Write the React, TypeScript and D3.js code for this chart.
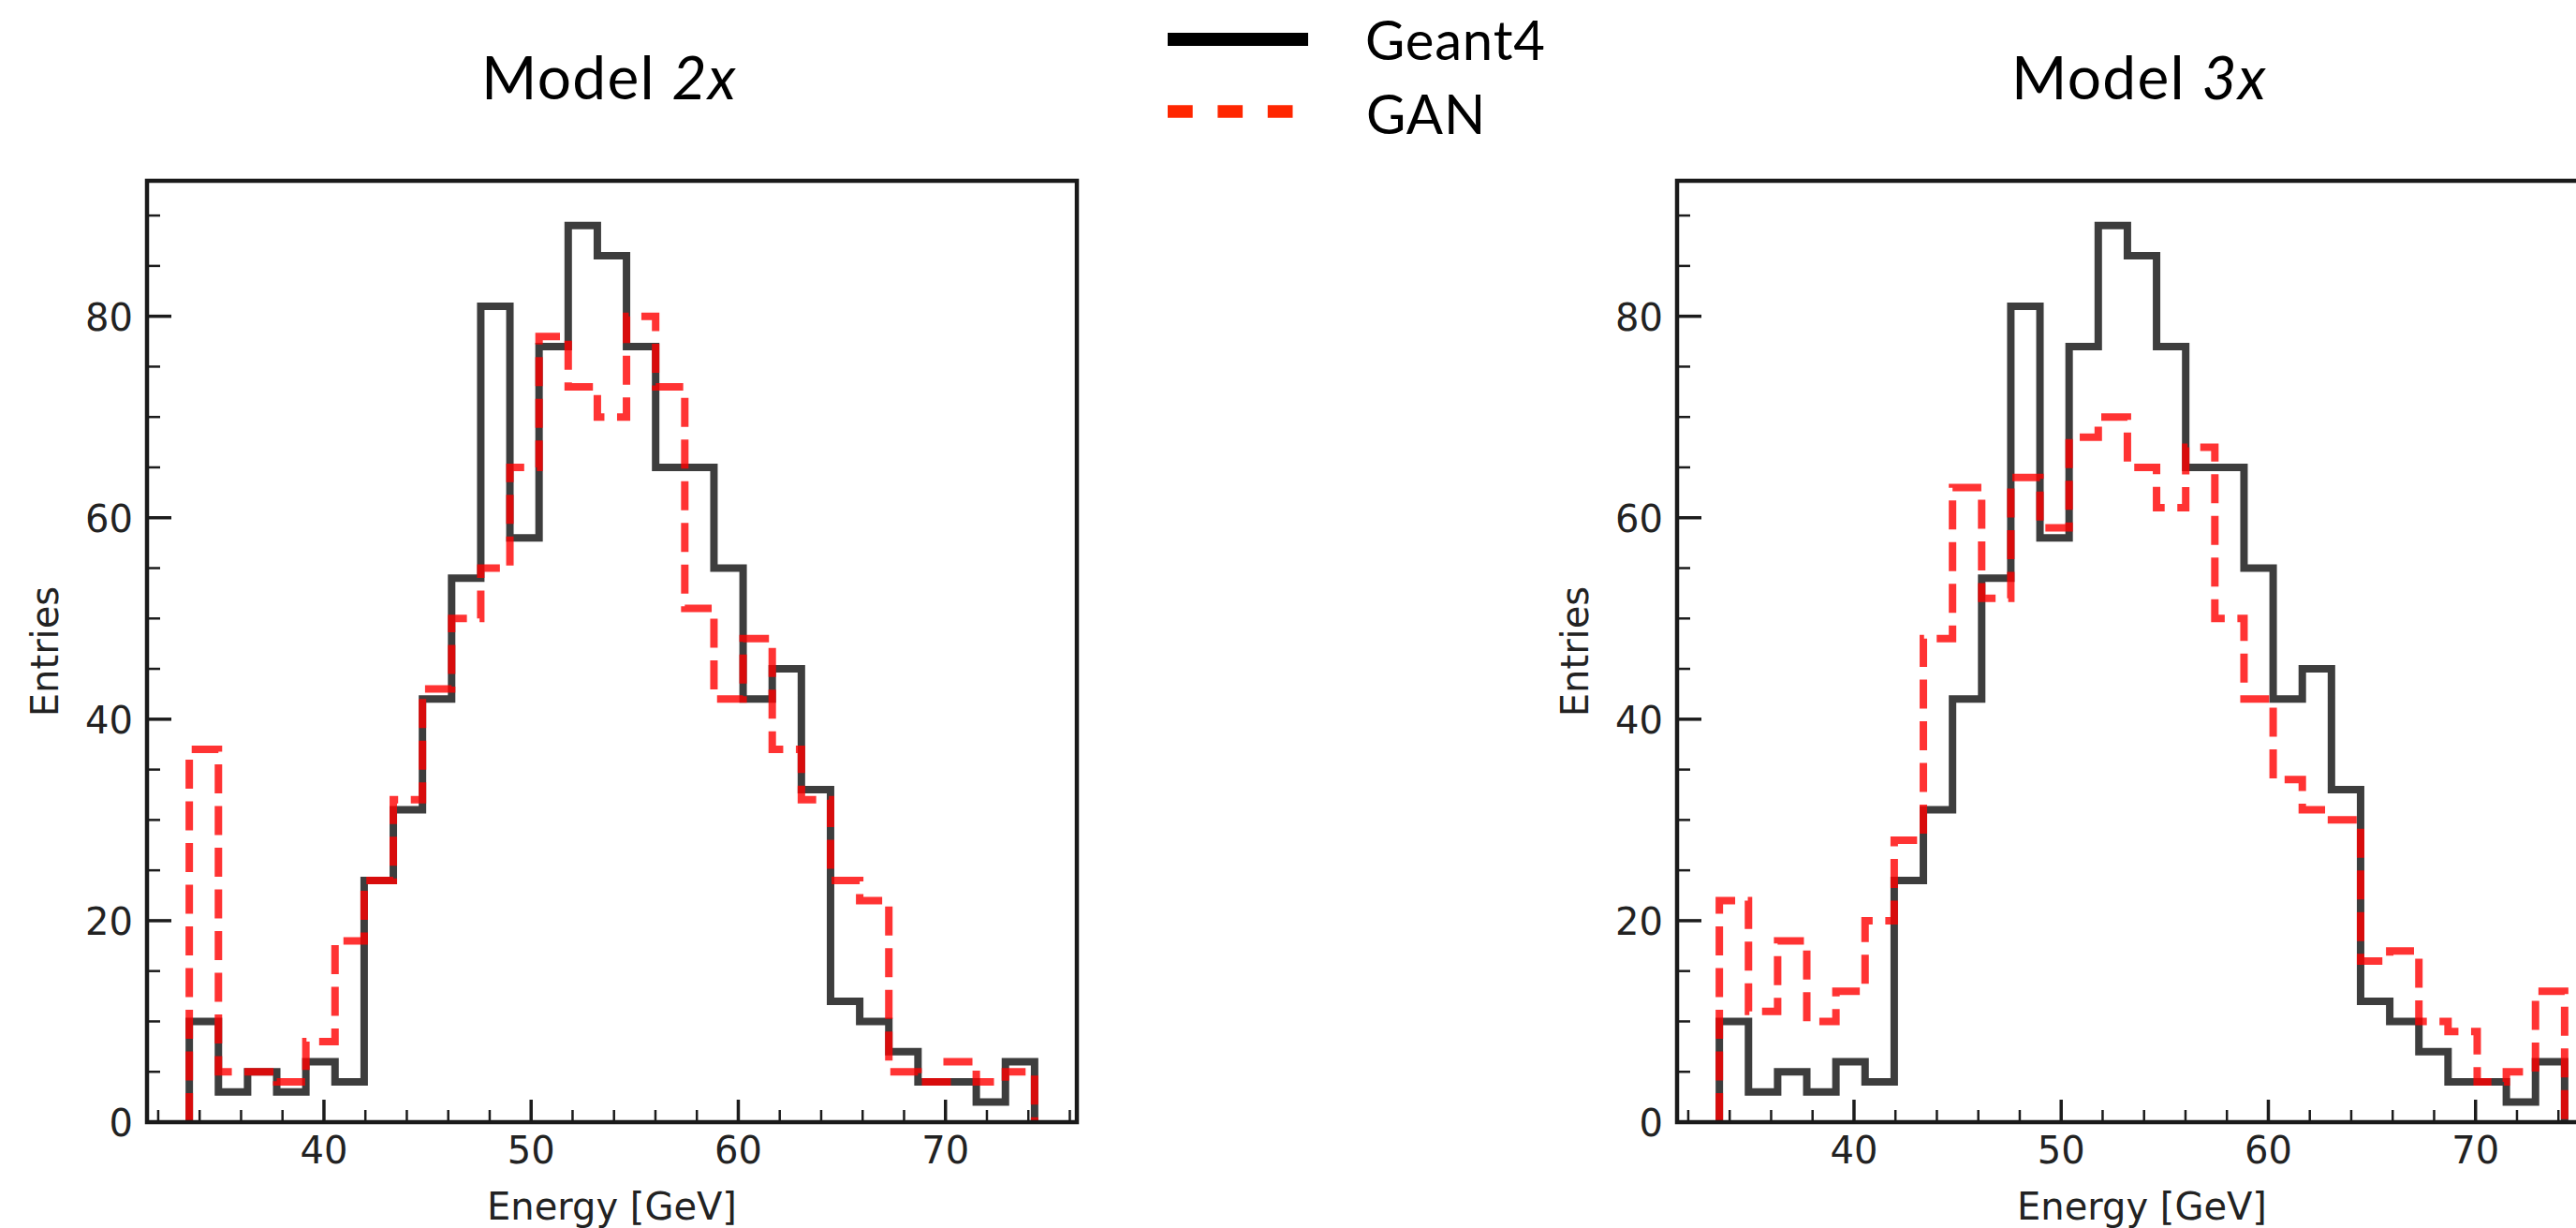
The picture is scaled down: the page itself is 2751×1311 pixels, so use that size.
import React from 'react'
import * as d3 from 'd3'

// histogram binning (29 equal bins)
const histMin = 33.5
const histMax = 74.3
const nBins = 29

// entries per bin
const geant4 = [10, 3, 5, 3, 6, 4, 24, 31, 42, 54, 81, 58, 77, 89, 86, 77, 65, 65, 55, 42, 45, 33, 12, 10, 7, 4, 4, 2, 6]
const ganModel2x = [37, 5, 5, 4, 8, 18, 24, 32, 43, 50, 55, 65, 78, 73, 70, 80, 73, 51, 42, 48, 37, 32, 24, 22, 5, 4, 6, 4, 5]
const ganModel3x = [22, 11, 18, 10, 13, 20, 28, 48, 63, 52, 64, 59, 68, 70, 65, 61, 67, 50, 42, 34, 31, 30, 16, 17, 10, 9, 4, 5, 13]

const panelTitles = ['Model ', 'Model ']
const panelSuffix = ['2x', '3x']
const legendLabels = ['Geant4', 'GAN']
const xLabel = 'Energy [GeV]'
const yLabel = 'Entries'

const W = 2751
const H = 1311
const tickFont = 'DejaVu Sans'
const titleFont = 'Lato'

const box = { left: 157, right: 1150, top: 193, bottom: 1198 }
const panelOffset = 1634

const edges = d3.range(nBins + 1).map(i => histMin + (i * (histMax - histMin)) / nBins)
const pad = (histMax - histMin) * 0.05
const yMax = d3.max(geant4.concat(ganModel2x, ganModel3x)) * 1.05

const x = d3.scaleLinear().domain([histMin - pad, histMax + pad]).range([box.left, box.right])
const y = d3.scaleLinear().domain([0, yMax]).range([box.bottom, box.top])

const stepPath = (vals: number[]) => {
	const pts: [number, number][] = [[edges[0], 0]]
	vals.forEach((v, i) => {
		pts.push([edges[i], v])
		pts.push([edges[i + 1], v])
	})
	pts.push([edges[nBins], 0])
	return d3.line<[number, number]>().x(d => x(d[0])).y(d => y(d[1]))(pts)
}

const Panel = ({ dx, gan, title, suffix }) => {
	const xMajor = x.ticks(5)
	const xMinor = d3.range(32, x.domain()[1], 2).filter(t => t % 10 !== 0)
	const yMajor = y.ticks(5)
	const yMinor = d3.range(0, yMax, 5).filter(t => t % 20 !== 0)
	const tickColor = '#1c1c1c'
	const cx = (box.left + box.right) / 2
	const cy = (box.top + box.bottom) / 2

	return (
		<g transform={`translate(${dx},0)`}>
			<text
				x={cx - 3}
				y={106}
				textAnchor="middle"
				fontFamily={titleFont}
				fontSize={64}
				letterSpacing={1.3}
				fill="#000"
			>
				{title}
				<tspan fontStyle="italic">{suffix}</tspan>
			</text>

			{/* histograms */}
			<path d={stepPath(geant4)} fill="none" stroke="#000" strokeOpacity={0.76} strokeWidth={8} strokeLinejoin="miter" />
			<path
				d={stepPath(gan)}
				fill="none"
				stroke="#ff0000"
				strokeOpacity={0.8}
				strokeWidth={8}
				strokeDasharray="31 13.5"
				strokeLinejoin="miter"
			/>

			{/* ticks, inward */}
			{yMajor.map(t => (
				<g key={'ym' + t}>
					<line x1={box.left} x2={box.left + 26} y1={y(t)} y2={y(t)} stroke={tickColor} strokeWidth={3.5} />
					<text x={box.left - 15} y={y(t) + 15} textAnchor="end" fontFamily={tickFont} fontSize={40} fill="#222">
						{t}
					</text>
				</g>
			))}
			{yMinor.map(t => (
				<line key={'yn' + t} x1={box.left} x2={box.left + 14} y1={y(t)} y2={y(t)} stroke={tickColor} strokeWidth={2.5} />
			))}
			{xMajor.map(t => (
				<g key={'xm' + t}>
					<line x1={x(t)} x2={x(t)} y1={box.bottom} y2={box.bottom - 24} stroke={tickColor} strokeWidth={3.5} />
					<text x={x(t)} y={1242} textAnchor="middle" fontFamily={tickFont} fontSize={40} fill="#222">
						{t}
					</text>
				</g>
			))}
			{xMinor.map(t => (
				<line key={'xn' + t} x1={x(t)} x2={x(t)} y1={box.bottom} y2={box.bottom - 13} stroke={tickColor} strokeWidth={2.5} />
			))}

			<rect
				x={box.left}
				y={box.top}
				width={box.right - box.left}
				height={box.bottom - box.top}
				fill="none"
				stroke="#1a1a1a"
				strokeWidth={4.5}
			/>

			<text x={cx} y={1302} textAnchor="middle" fontFamily={tickFont} fontSize={40} fill="#222">
				{xLabel}
			</text>
			<text
				transform={`translate(62,${cy}) rotate(-90)`}
				textAnchor="middle"
				fontFamily={tickFont}
				fontSize={40}
				fill="#222"
			>
				{yLabel}
			</text>
		</g>
	)
}

const App = () => {
	return (
		<svg
			width={W}
			height={H}
			style={{ position: 'absolute', left: 0, top: 0, display: 'block', background: '#fff' }}
		>
			<rect width={W} height={H} fill="#fff" />
			<Panel dx={0} gan={ganModel2x} title={panelTitles[0]} suffix={panelSuffix[0]} />
			<Panel dx={panelOffset} gan={ganModel3x} title={panelTitles[1]} suffix={panelSuffix[1]} />

			{/* legend */}
			<line x1={1247} x2={1397} y1={42} y2={42} stroke="#000" strokeWidth={14} />
			<line x1={1247} x2={1381} y1={119} y2={119} stroke="#ff2600" strokeWidth={13.3} strokeDasharray="26.7 26.7" />
			<text x={1458} y={64} fontFamily={titleFont} fontSize={58} letterSpacing={0.8} fill="#000">
				{legendLabels[0]}
			</text>
			<text x={1459} y={143} fontFamily={titleFont} fontSize={58} letterSpacing={0.8} fill="#000">
				{legendLabels[1]}
			</text>
		</svg>
	)
}

export default App
